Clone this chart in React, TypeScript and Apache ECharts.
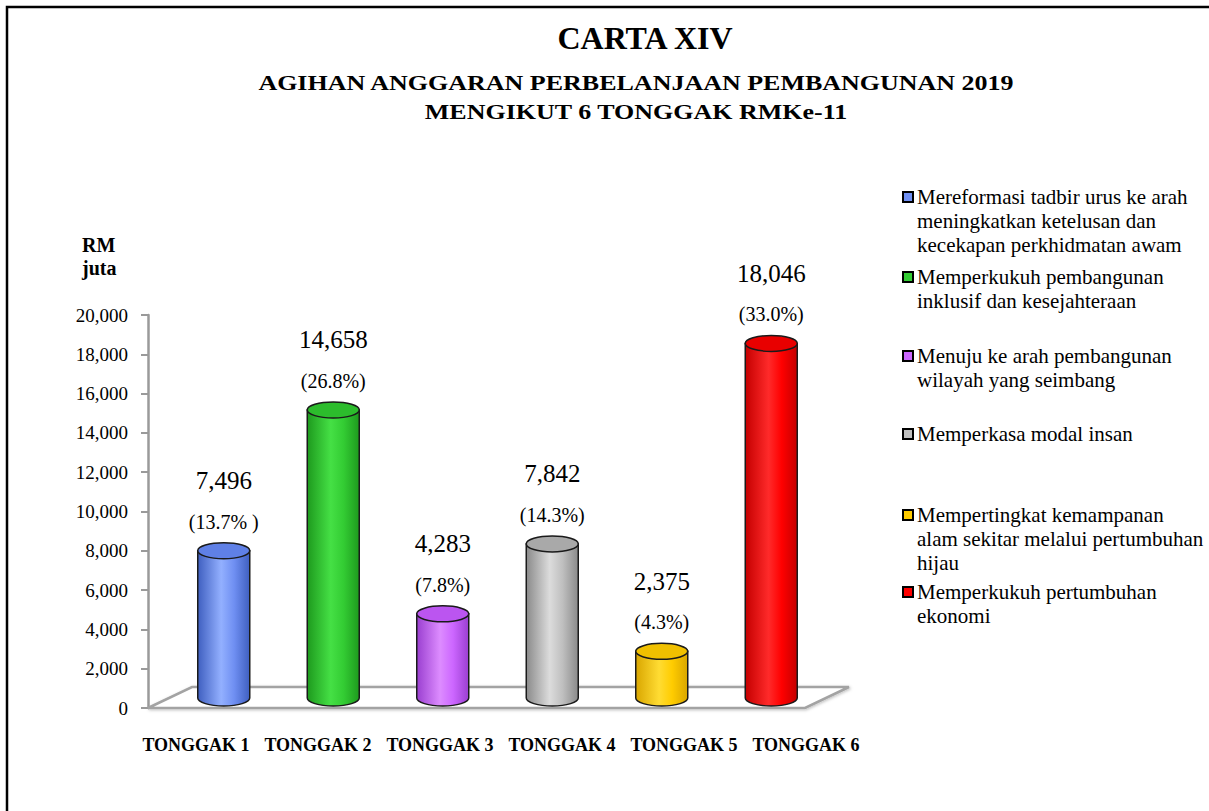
import React, { useEffect, useRef } from 'react';
import * as echarts from 'echarts';

const categories = ['TONGGAK 1', 'TONGGAK 2', 'TONGGAK 3', 'TONGGAK 4', 'TONGGAK 5', 'TONGGAK 6'];
const values = [7496, 14658, 4283, 7842, 2375, 18046];
const valueLabels = ['7,496', '14,658', '4,283', '7,842', '2,375', '18,046'];
const shareLabels = ['(13.7% )', '(26.8%)', '(7.8%)', '(14.3%)', '(4.3%)', '(33.0%)'];
const legendLines = [
  ['Mereformasi tadbir urus ke arah', 'meningkatkan ketelusan dan', 'kecekapan perkhidmatan awam'],
  ['Memperkukuh pembangunan', 'inklusif dan kesejahteraan'],
  ['Menuju ke arah pembangunan', 'wilayah yang seimbang'],
  ['Memperkasa modal insan'],
  ['Mempertingkat kemampanan', 'alam sekitar melalui pertumbuhan', 'hijau'],
  ['Memperkukuh pertumbuhan', 'ekonomi'],
];
const legendTops = [197, 277, 356, 434, 515, 592];
const baseColors = ['#6f8ff2', '#33cc33', '#cc66ff', '#bfbfbf', '#ffcc00', '#ff0000'];
const darkColors = ['#3f5fc0', '#1e9a1e', '#9a3fd0', '#8a8a8a', '#d9a600', '#c40000'];
const lightColors = ['#93b0ff', '#45e045', '#dd8cff', '#dcdcdc', '#ffdc33', '#ff2a2a'];
const topColors = ['#5f80e6', '#2cbc2c', '#bb55f0', '#a9a9a9', '#f0c000', '#e80000'];

const yMin = 0;
const yMax = 20000;
const yInterval = 2000;

const SERIF = '"Liberation Serif", "Times New Roman", serif';
const DEPTH_X = 44;
const DEPTH_Y = -21;
const BAR_DX = 21;
const BAR_DY = -10;

export default function App() {
  const ref = useRef<HTMLDivElement>(null);

  useEffect(() => {
    if (!ref.current) return;
    const chart = echarts.init(ref.current, null, { renderer: 'svg' });

    const txt = (text: string, x: number, y: number, size: number, bold: boolean, align: string, extra: any = {}) => ({
      type: 'text',
      x,
      y,
      ...extra,
      style: {
        text, fontFamily: SERIF, fontWeight: bold ? 'bold' : 'normal', fontSize: size, fill: '#000',
        align, verticalAlign: 'middle', textAlign: align, textVerticalAlign: 'middle',
      },
    });

    const graphics: any[] = [
      {
        type: 'rect',
        shape: { x: 7, y: 7, width: 1400, height: 1000 },
        style: { fill: 'none', stroke: '#000', lineWidth: 2.5 },
        silent: true,
      },
      txt('CARTA XIV', 645, 38, 32, true, 'center'),
      txt('AGIHAN ANGGARAN PERBELANJAAN PEMBANGUNAN 2019', 636, 83, 20, true, 'center', { scaleX: 1.3 }),
      txt('MENGIKUT 6 TONGGAK RMKe-11', 636, 112, 20, true, 'center', { scaleX: 1.3 }),
      txt('RM', 82, 245, 20, true, 'left'),
      txt('juta', 82, 268, 20, true, 'left'),
    ];

    legendLines.forEach((lines, k) => {
      const top = legendTops[k];
      graphics.push({
        type: 'rect',
        shape: { x: 903, y: top - 5, width: 10, height: 10 },
        style: { fill: baseColors[k], stroke: '#000', lineWidth: 2 },
      });
      lines.forEach((line, j) => {
        graphics.push(txt(line, 917, top + j * 24, 21, false, 'left'));
      });
    });

    const option: any = {
      animation: false,
      backgroundColor: '#fff',
      grid: [
        { left: 148, right: 404, top: 315, bottom: 103, containLabel: false },
        { left: 135, right: 342, top: 315, bottom: 103, containLabel: false },
      ],
      xAxis: [
        {
          type: 'category',
          gridIndex: 0,
          data: categories,
          axisLine: { show: false },
          axisTick: { show: false },
          axisLabel: { show: false },
        },
        {
          type: 'category',
          gridIndex: 1,
          data: categories,
          axisLine: { show: false },
          axisTick: { show: false },
          axisLabel: {
            interval: 0,
            margin: 28,
            fontFamily: SERIF,
            fontWeight: 'bold',
            fontSize: 18,
            color: '#000',
          },
        },
      ],
      yAxis: [
        {
          type: 'value',
          gridIndex: 0,
          min: yMin,
          max: yMax,
          interval: yInterval,
          axisLine: { show: true, lineStyle: { color: '#9a9a9a', width: 2.5 } },
          axisTick: { show: true, length: 7, lineStyle: { color: '#9a9a9a', width: 2 } },
          splitLine: { show: false },
          axisLabel: {
            margin: 20,
            fontFamily: SERIF,
            fontSize: 19,
            color: '#000',
            formatter: (v: number) => v.toLocaleString('en-US'),
          },
        },
        {
          type: 'value',
          gridIndex: 1,
          min: yMin,
          max: yMax,
          interval: yInterval,
          show: false,
        },
      ],
      graphic: graphics,
      series: [
        {
          type: 'custom',
          name: 'floor',
          silent: true,
          z: 1,
          xAxisIndex: 0,
          yAxisIndex: 0,
          data: [[0, 0]],
          renderItem: (params: any) => {
            const cs = params.coordSys;
            const x0 = cs.x;
            const x1 = cs.x + cs.width;
            const y0 = cs.y + cs.height;
            return {
              type: 'polygon',
              shape: {
                points: [
                  [x0, y0],
                  [x1, y0],
                  [x1 + DEPTH_X, y0 + DEPTH_Y],
                  [x0 + DEPTH_X, y0 + DEPTH_Y],
                ],
              },
              style: { fill: '#fff', stroke: '#a3a3a3', lineWidth: 2.5, shadowColor: 'rgba(0,0,0,0.25)', shadowBlur: 3, shadowOffsetX: 1, shadowOffsetY: 1 },
            };
          },
        },
        {
          type: 'custom',
          name: 'Anggaran',
          clip: false,
          z: 3,
          xAxisIndex: 0,
          yAxisIndex: 0,
          data: values.map((v, i) => [i, v]),
          renderItem: (params: any, api: any) => {
            const i = api.value(0);
            const v = api.value(1);
            const topPt = api.coord([i, v]);
            const basePt = api.coord([i, 0]);
            const cx = topPt[0] + BAR_DX;
            const yT = topPt[1] + BAR_DY;
            const yB = basePt[1] + BAR_DY;
            const rx = 26;
            const ry = 8;
            const body = `M${cx - rx},${yT} L${cx - rx},${yB} A${rx},${ry} 0 0 0 ${cx + rx},${yB} L${cx + rx},${yT} Z`;
            const grad = new echarts.graphic.LinearGradient(0, 0, 1, 0, [
              { offset: 0, color: darkColors[i] },
              { offset: 0.45, color: lightColors[i] },
              { offset: 0.7, color: baseColors[i] },
              { offset: 1, color: darkColors[i] },
            ]);
            return {
              type: 'group',
              children: [
                {
                  type: 'path',
                  shape: { pathData: body },
                  style: { fill: grad, stroke: '#1a1a1a', lineWidth: 1.5 },
                },
                {
                  type: 'ellipse',
                  shape: { cx, cy: yT, rx, ry },
                  style: { fill: topColors[i], stroke: '#1a1a1a', lineWidth: 1.5 },
                },
                txt(valueLabels[i], cx, yT - 70, 25, false, 'center'),
                txt(shareLabels[i], cx, yT - 29, 20, false, 'center'),
              ],
            };
          },
        },
      ],
    };

    chart.setOption(option);
    return () => chart.dispose();
  }, []);

  return (
    <div
      ref={ref}
      style={{ position: 'absolute', left: 0, top: 0, width: 1209, height: 811 }}
    />
  );
}
